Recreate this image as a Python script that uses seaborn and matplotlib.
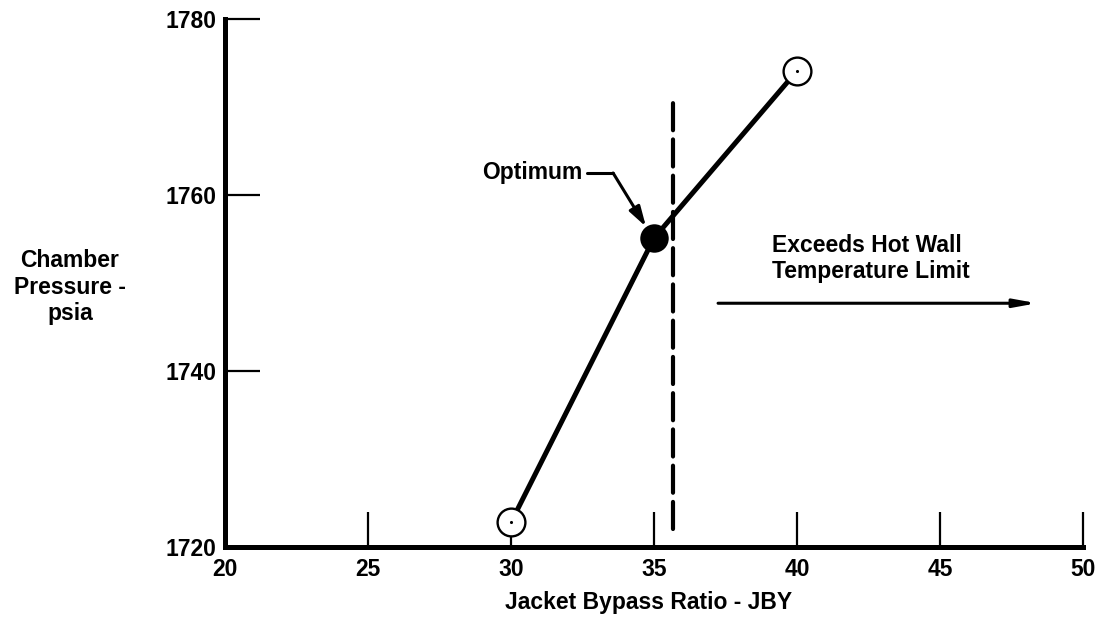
import matplotlib
matplotlib.use("Agg")
import matplotlib.pyplot as plt
import seaborn as sns
import pandas as pd

# ---- data ----
jby = [30, 35, 40]
chamber_pressure = [1722.8, 1755.1, 1774.1]
point_kind = ["open", "optimum", "open"]
x_ticks = [20, 25, 30, 35, 40, 45, 50]
y_ticks = [1720, 1740, 1760, 1780]
hot_wall_limit_jby = 35.65
hot_wall_limit_range = [1722.0, 1771.3]
exceed_arrow_x = [37.24, 48.39]
exceed_arrow_y = 1747.7
optimum_label_pos = (28.99, 1762.5)
optimum_leader = [(32.66, 1762.5), (33.57, 1762.5), (34.72, 1756.4)]
exceed_label_pos = (39.13, 1752.8)

df = pd.DataFrame({"jby": jby, "pc": chamber_pressure, "kind": point_kind})

sns.set_theme(style="ticks")
plt.rcParams["font.family"] = ["Liberation Sans", "DejaVu Sans"]
for k in ("text.color", "axes.labelcolor", "xtick.color", "ytick.color",
          "axes.edgecolor"):
    plt.rcParams[k] = "black"

FS = 16.5
FW = "bold"

fig = plt.figure(figsize=(11.03, 6.26), dpi=100)
ax = fig.add_axes([225 / 1103, 79 / 626, 858 / 1103, 528 / 626])

# main line
sns.lineplot(data=df, x="jby", y="pc", color="black", linewidth=3.6, ax=ax,
             zorder=2, estimator=None, sort=False)

# open circle points
op = df[df["kind"] == "open"]
sns.scatterplot(data=op, x="jby", y="pc", s=400, facecolor="white",
                edgecolor="black", linewidth=1.7, ax=ax, zorder=4, clip_on=False)
sns.scatterplot(data=op, x="jby", y="pc", s=5, color="black", linewidth=0,
                ax=ax, zorder=5, clip_on=False)
# optimum point
opt = df[df["kind"] == "optimum"]
sns.scatterplot(data=opt, x="jby", y="pc", s=420, color="black", linewidth=0,
                ax=ax, zorder=4)

# dashed limit line
ax.plot([hot_wall_limit_jby, hot_wall_limit_jby], hot_wall_limit_range,
        color="black", linewidth=3.0, linestyle=(0, (6.5, 2.2)), zorder=3,
        dash_capstyle="round")

# exceeds arrow
ax.annotate("", xy=(exceed_arrow_x[1], exceed_arrow_y),
            xytext=(exceed_arrow_x[0], exceed_arrow_y),
            arrowprops=dict(arrowstyle="-|>,head_length=1.1,head_width=0.2",
                            color="black", lw=2.2, shrinkA=0, shrinkB=0))
ax.text(exceed_label_pos[0], exceed_label_pos[1],
        "Exceeds Hot Wall\nTemperature Limit", ha="left", va="center",
        fontsize=FS, fontweight=FW, linespacing=1.2)

# optimum label & leader
ax.text(optimum_label_pos[0], optimum_label_pos[1], "Optimum", ha="left",
        va="center", fontsize=FS, fontweight=FW)
ax.plot([optimum_leader[0][0], optimum_leader[1][0]],
        [optimum_leader[0][1], optimum_leader[1][1]], color="black", lw=2.2)
ax.annotate("", xy=optimum_leader[2], xytext=optimum_leader[1],
            arrowprops=dict(arrowstyle="-|>,head_length=1.0,head_width=0.3",
                            color="black", lw=2.2, shrinkA=0, shrinkB=0))

# axes styling
ax.set_xlim(x_ticks[0], x_ticks[-1])
ax.set_ylim(y_ticks[0], y_ticks[-1])
ax.set_xticks(x_ticks)
ax.set_yticks(y_ticks)
ax.set_xticklabels([str(v) for v in x_ticks], fontsize=FS, fontweight=FW)
ax.set_yticklabels([str(v) for v in y_ticks], fontsize=FS, fontweight=FW)
sns.despine(ax=ax)
for sp in ("left", "bottom"):
    ax.spines[sp].set_linewidth(3.6)
    ax.spines[sp].set_color("black")
    ax.spines[sp].set_capstyle("projecting")
ax.tick_params(axis="both", direction="in", length=25, width=1.6, color="black")
ax.tick_params(axis="x", pad=8)
ax.tick_params(axis="y", pad=6)
ax.grid(False)

ax.set_xlabel("Jacket Bypass Ratio - JBY", fontsize=FS, fontweight=FW)
ax.xaxis.set_label_coords((505 - 225) / 858, (547 - 603) / 528)
ax.xaxis.label.set_ha("left")
ax.xaxis.label.set_va("center")
ax.set_ylabel("Chamber\nPressure -\npsia", fontsize=FS, fontweight=FW,
              rotation=0, linespacing=1.2)
ax.yaxis.set_label_coords((70 - 225) / 858, (547 - 287) / 528)
ax.yaxis.label.set_ha("center")
ax.yaxis.label.set_va("center")

fig.savefig("out.png", dpi=100, facecolor="white")
